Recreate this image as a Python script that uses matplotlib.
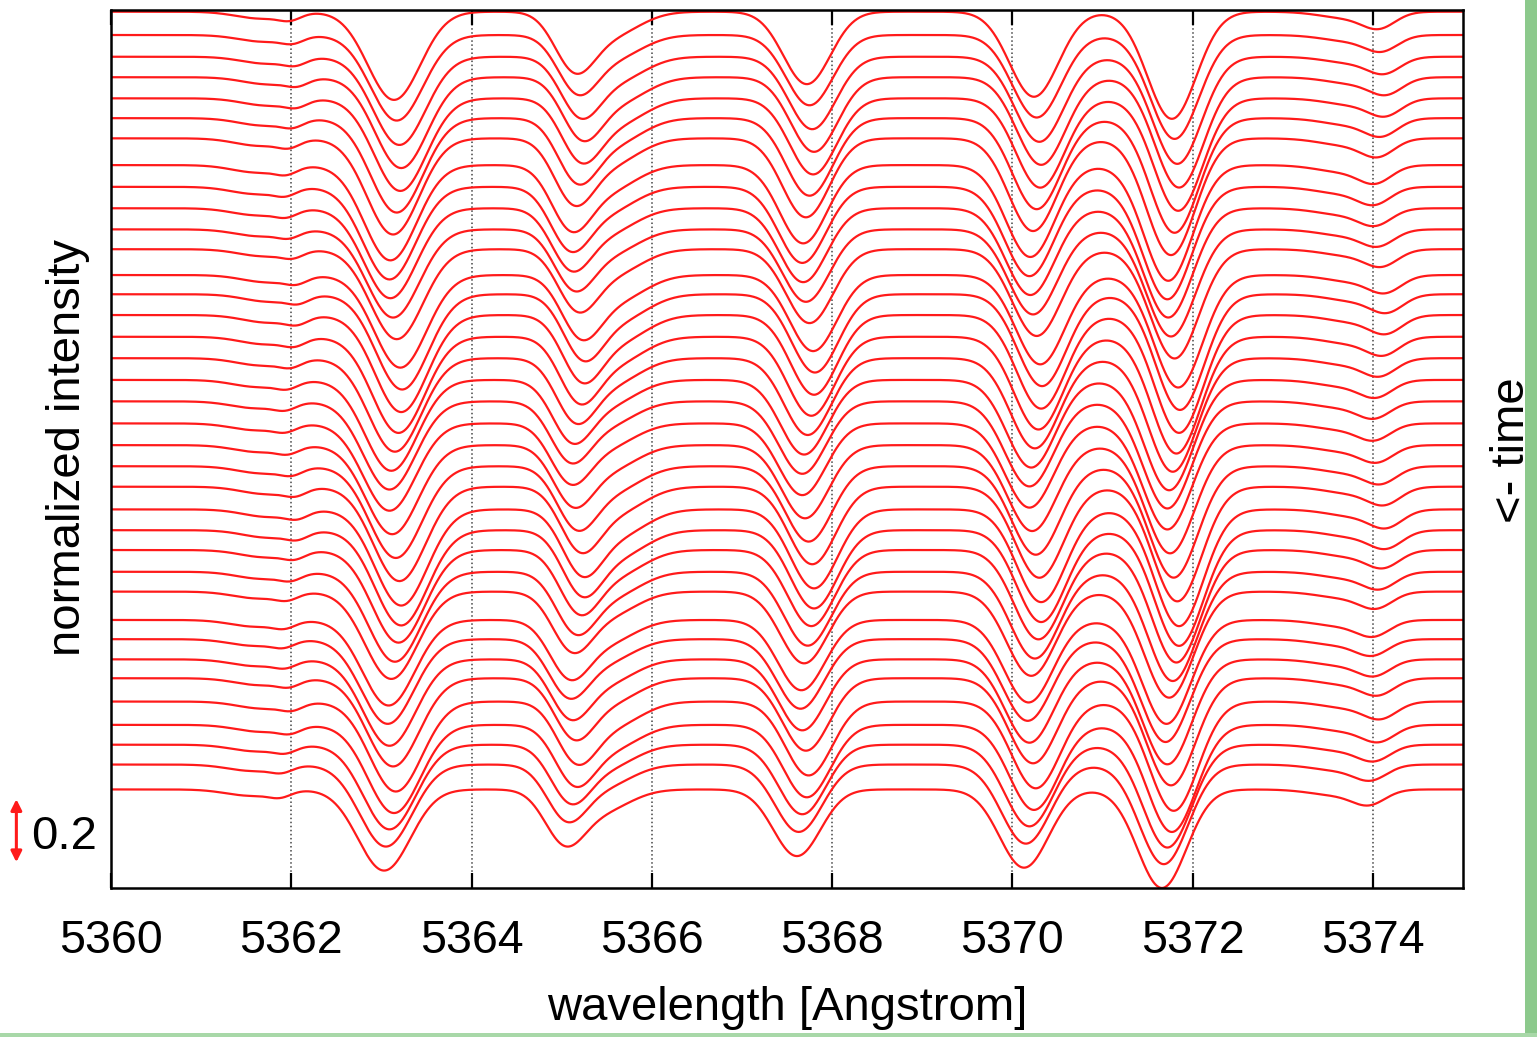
import numpy as np
import matplotlib
matplotlib.use('Agg')
import matplotlib.pyplot as plt
from matplotlib.patches import Rectangle

plt.rcParams['font.family'] = ['Liberation Sans', 'DejaVu Sans']

# absorption lines seen in the mean spectrum (Angstrom, depth, gaussian sigma)
line_center = [5361.65, 5361.97, 5363.12, 5365.12, 5365.55, 5367.70, 5370.22, 5371.75, 5373.70, 5374.05]
line_depth = [0.022, 0.018, 0.28, 0.17, 0.07, 0.23, 0.27, 0.34, 0.02, 0.045]
line_sigma = [0.28, 0.12, 0.29, 0.22, 0.30, 0.26, 0.27, 0.27, 0.30, 0.18]

# vertical offset of each spectrum (top = first), read from the continuum levels
offsets = [0.000, 0.074, 0.143, 0.208, 0.275, 0.338, 0.402, 0.487, 0.556, 0.624,
           0.691, 0.754, 0.836, 0.897, 0.963, 1.032, 1.100, 1.169, 1.237, 1.307,
           1.376, 1.443, 1.508, 1.580, 1.646, 1.709, 1.778, 1.841, 1.931, 1.992,
           2.056, 2.116, 2.190, 2.264, 2.327, 2.390, 2.469]

# line shift (Angstrom) and line strength per spectrum
shift = [0.02, 0.05, 0.08, 0.10, 0.09, 0.05, 0.01, -0.02, -0.03, -0.02,
         0.01, 0.05, 0.09, 0.11, 0.10, 0.07, 0.03, -0.01, -0.03, -0.03,
         0.00, 0.04, 0.08, 0.10, 0.10, 0.07, 0.03, -0.01, -0.04, -0.05,
         -0.03, 0.01, 0.04, 0.02, -0.03, -0.07, -0.09]
strength = [1.00, 0.97, 1.00, 1.03, 1.05, 1.07, 1.09, 1.08, 1.05, 1.02,
            1.00, 1.02, 1.05, 1.08, 1.10, 1.09, 1.06, 1.03, 1.00, 0.99,
            1.01, 1.04, 1.07, 1.09, 1.08, 1.05, 1.02, 0.99, 0.97, 0.96,
            0.98, 1.00, 1.02, 1.00, 0.96, 0.93, 0.92]

x_ticks = [5360, 5362, 5364, 5366, 5368, 5370, 5372, 5374]

wl = np.linspace(5360, 5375, 1501)

fig = plt.figure(figsize=(15.37, 10.37), dpi=100)
ax = fig.add_axes([111 / 1537, 1 - 888 / 1037, 1352 / 1537, 878 / 1037])

for off, sh, st in zip(offsets, shift, strength):
    flux = np.ones_like(wl)
    for c, d, s in zip(line_center, line_depth, line_sigma):
        flux -= d * st * np.exp(-0.5 * ((wl - c - sh) / s) ** 2)
    ax.plot(wl, flux - off, color='#ff1a1a', linewidth=1.6)

ax.set_xlim(5360, 5375)
ax.set_ylim(1 - (888 - 11.7) / 315, 1 + (11.7 - 10) / 315)
ax.set_xticks(x_ticks)
ax.set_xticklabels([str(t) for t in x_ticks], fontsize=33.5)
ax.set_yticks([])
ax.tick_params(axis='x', direction='in', length=11, width=1.6, pad=22,
               top=True, bottom=True)
ax.grid(True, axis='x', linestyle=':', color='#444444', linewidth=1.1)
for sp in ax.spines.values():
    sp.set_linewidth(1.8)

fig.text(787 / 1537, 1 - 1008 / 1037, 'wavelength [Angstrom]', fontsize=34,
         ha='center', va='center')
fig.text(68 / 1537, 1 - 448 / 1037, 'normalized intensity', fontsize=34,
         rotation=90, ha='center', va='center')
fig.text(1512 / 1537, 1 - 450 / 1037, '<- time', fontsize=34,
         rotation=90, ha='center', va='center')

# 0.2 intensity scale bar
ax.annotate('', xy=(-0.070, -1.70), xytext=(-0.070, -1.50),
            xycoords=ax.get_yaxis_transform(), textcoords=ax.get_yaxis_transform(),
            arrowprops=dict(arrowstyle='<|-|>', color='#ff1a1a', lw=2.2,
                            mutation_scale=16, shrinkA=0, shrinkB=0),
            annotation_clip=False)
ax.text(-0.059, -1.62, '0.2', transform=ax.get_yaxis_transform(), fontsize=34,
        ha='left', va='center', clip_on=False)

# green slide border
fig.patches.append(Rectangle((1525 / 1537, 0), 12 / 1537, 1, transform=fig.transFigure,
                             facecolor='#8cc98c', edgecolor='none'))
fig.patches.append(Rectangle((0, 0), 1, 4 / 1037, transform=fig.transFigure,
                             facecolor='#a8d8a8', edgecolor='none'))

fig.savefig('out.png', dpi=100)
